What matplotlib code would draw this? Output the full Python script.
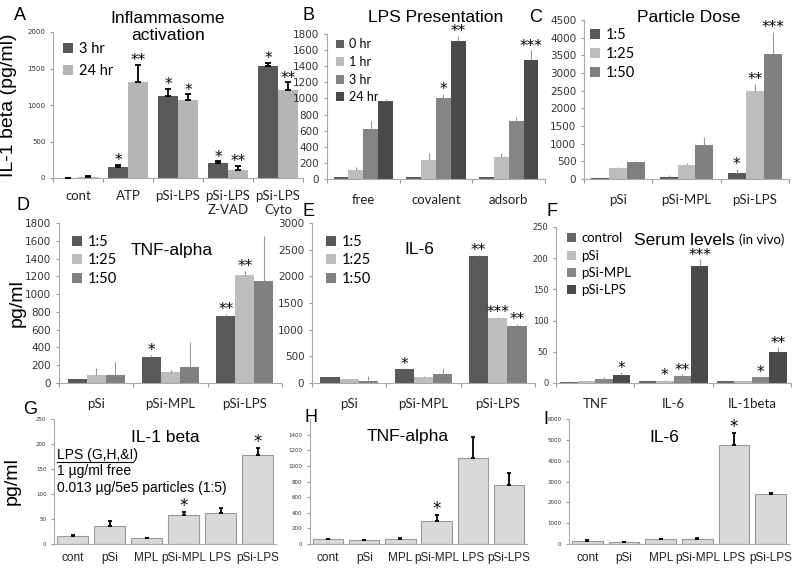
import matplotlib.pyplot as plt
from matplotlib.lines import Line2D
import numpy as np

W, H = 800, 569

# ---- data ----
a_cats = ["cont", "ATP", "pSi-LPS", "pSi-LPS\nZ-VAD", "pSi-LPS\nCyto"]
a_names = ["3 hr", "24 hr"]
a_vals = [[2, 150, 1130, 200, 1530], [10, 1320, 1070, 110, 1210]]
a_errs = [[3, 30, 90, 30, 50], [20, 230, 75, 60, 100]]
a_stars = [["", "*", "*", "*", "*"], ["", "**", "*", "**", "**"]]

b_cats = ["free", "covalent", "adsorb"]
b_names = ["0 hr", "1 hr", "3 hr", "24 hr"]
b_vals = [[20, 20, 20], [110, 235, 270], [625, 1010, 715], [965, 1715, 1480]]
b_errs = [[5, 5, 5], [40, 90, 50], [90, 50, 50], [30, 60, 120]]
b_stars = [["", "", ""], ["", "", ""], ["", "*", ""], ["", "**", "***"]]

dose_names = ["1:5", "1:25", "1:50"]
part_cats = ["pSi", "pSi-MPL", "pSi-LPS"]

c_vals = [[30, 50, 170], [320, 410, 2490], [480, 950, 3550]]
c_errs = [[10, 50, 120], [30, 30, 200], [30, 250, 620]]
c_stars = [["", "", "*"], ["", "", "**"], ["", "", "***"]]

d_vals = [[50, 290, 750], [90, 125, 1210], [90, 175, 1150]]
d_errs = [[5, 30, 30], [80, 20, 50], [150, 290, 500]]
d_stars = [["", "*", "**"], ["", "", "**"], ["", "", ""]]

e_vals = [[110, 270, 2380], [70, 110, 1210], [45, 170, 1070]]
e_errs = [[5, 10, 20], [5, 30, 30], [80, 120, 40]]
e_stars = [["", "*", "**"], ["", "", "***"], ["", "", "**"]]

f_cats = ["TNF", "IL-6", "IL-1beta"]
f_names = ["control", "pSi", "pSi-MPL", "pSi-LPS"]
f_vals = [[2, 3, 3], [3, 4, 3], [6, 12, 9], [13, 188, 49]]
f_errs = [[1, 1, 0.5], [1, 1, 0.5], [3, 2, 1], [4, 10, 8]]
f_stars = [["", "", ""], ["", "*", ""], ["", "**", "*"], ["*", "***", "**"]]

ghi_cats = ["cont", "pSi", "MPL", "pSi-MPL", "LPS", "pSi-LPS"]
g_vals = [16, 36, 12, 58, 62, 178]
g_errs = [3, 10, 0, 7, 10, 15]
g_stars = ["", "", "", "*", "", "*"]
h_vals = [60, 50, 70, 295, 1100, 755]
h_errs = [5, 0, 5, 80, 270, 150]
h_stars = ["", "", "", "*", "", ""]
i_vals = [150, 80, 230, 260, 4750, 2380]
i_errs = [50, 0, 30, 30, 580, 50]
i_stars = ["", "", "", "", "*", ""]


def box(x0, x1, ytop, ybot):
    return [x0 / W, 1 - ybot / H, (x1 - x0) / W, (ybot - ytop) / H]


def fx(x, y):
    return x / W, 1 - y / H


def style_axes(ax, cats, ymax, yticks, tick_fs, cat_fs, pad, cat_font="Lato"):
    n = len(cats)
    ax.set_xlim(0, n)
    ax.set_ylim(0, ymax)
    ax.set_yticks(yticks)
    ax.set_xticks(np.arange(n + 1))
    ax.set_xticklabels([])
    ax.set_xticks(np.arange(n) + 0.5, minor=True)
    ax.set_xticklabels(cats, minor=True, fontsize=cat_fs, family=cat_font, color="#222222")
    ax.tick_params(axis="x", which="major", length=3, color="#999999")
    ax.tick_params(axis="x", which="minor", length=0, pad=pad)
    ax.tick_params(axis="y", length=2, color="#999999", labelsize=tick_fs, labelcolor="#333333")
    for s in ["top", "right"]:
        ax.spines[s].set_visible(False)
    for s in ["left", "bottom"]:
        ax.spines[s].set_color("#aaaaaa")
        ax.spines[s].set_linewidth(0.8)


def star(ax, x, y, s, fs=11):
    ax.annotate(s, (x, y), xytext=(0, -2.5), textcoords="offset points", ha="center",
                va="bottom", fontsize=fs, family="DejaVu Sans")


def grouped(ax, vals, errs, stars, colors, names, group_w, ecolor, elw, cap):
    k = len(vals)
    bw = group_w / k
    n = len(vals[0])
    x0 = np.arange(n) + 0.5 - group_w / 2
    for j in range(k):
        xs = x0 + bw * (j + 0.5)
        ax.bar(xs, vals[j], bw, color=colors[j], label=names[j], zorder=2)
        ax.errorbar(xs, vals[j], yerr=[np.zeros(n), errs[j]], fmt="none",
                    ecolor=ecolor, elinewidth=elw, capsize=cap, capthick=elw, zorder=3)
        for i in range(n):
            if stars[j][i]:
                star(ax, xs[i], vals[j][i] + errs[j][i], stars[j][i])


def legend(ax, loc_xy, fs, spacing):
    ax.legend(loc="upper left", bbox_to_anchor=loc_xy, frameon=False,
              handlelength=0.7, handleheight=0.7, handletextpad=0.4, labelspacing=spacing,
              borderaxespad=0, borderpad=0, prop={"family": "Lato", "size": fs})


fig = plt.figure(figsize=(8, 5.69), dpi=100)

# A
ax = fig.add_axes(box(53, 303, 32, 178))
style_axes(ax, a_cats, 2000, [0, 500, 1000, 1500, 2000], 5, 9.5, 9)
grouped(ax, a_vals, a_errs, a_stars, ["#595959", "#b5b5b5"], a_names, 0.8, "black", 1.3, 2.5)
legend(ax, (0.04, 0.93), 10.5, 0.55)
ax.set_ylabel("IL-1 beta (pg/ml)", fontsize=14, family="Liberation Sans", labelpad=0)
ax.yaxis.set_label_coords(-0.145, 0.5)

# B
ax = fig.add_axes(box(327, 545, 34, 179))
style_axes(ax, b_cats, 1800, np.arange(0, 1801, 200), 7.5, 9.5, 11)
grouped(ax, b_vals, b_errs, b_stars, ["#5f5f5f", "#bdbdbd", "#858585", "#4a4a4a"], b_names,
        0.82, "#999999", 0.8, 0)
legend(ax, (0.04, 0.97), 9, 0.45)

# C
ax = fig.add_axes(box(584, 789, 20, 179))
style_axes(ax, part_cats, 4500, np.arange(0, 4501, 500), 7.5, 9.5, 11)
grouped(ax, c_vals, c_errs, c_stars, ["#595959", "#bdbdbd", "#808080"], dose_names,
        0.79, "#999999", 0.8, 0)
legend(ax, (0.03, 0.95), 10.5, 0.35)

# D
ax = fig.add_axes(box(59, 282, 223, 383))
style_axes(ax, part_cats, 1800, np.arange(0, 1801, 200), 7.5, 9.5, 11)
grouped(ax, d_vals, d_errs, d_stars, ["#595959", "#bdbdbd", "#808080"], dose_names,
        0.77, "#999999", 0.8, 0)
legend(ax, (0.058, 0.925), 10.5, 0.3)
ax.set_ylabel("pg/ml", fontsize=14, family="Liberation Sans")
ax.yaxis.set_label_coords(-0.15, 0.5)

# E
ax = fig.add_axes(box(312, 535, 223, 383))
style_axes(ax, part_cats, 3000, np.arange(0, 3001, 500), 7.5, 9.5, 11)
grouped(ax, e_vals, e_errs, e_stars, ["#595959", "#bdbdbd", "#808080"], dose_names,
        0.78, "#999999", 0.8, 0)
legend(ax, (0.063, 0.925), 10.5, 0.3)

# F
ax = fig.add_axes(box(556, 791, 227, 383))
style_axes(ax, f_cats, 250, np.arange(0, 251, 50), 6, 9.5, 11)
grouped(ax, f_vals, f_errs, f_stars, ["#666666", "#bdbdbd", "#888888", "#4a4a4a"], f_names,
        0.89, "#999999", 0.8, 0)
legend(ax, (0.047, 0.965), 9.5, 0.4)


# G, H, I
def single(rect, vals, errs, stars, ymax, yticks):
    ax = fig.add_axes(rect)
    style_axes(ax, ghi_cats, ymax, yticks, 4, 8.5, 6, "Liberation Sans")
    xs = np.arange(len(vals)) + 0.5
    ax.bar(xs, vals, 0.84, color="#d9d9d9", edgecolor="#9a9a9a", linewidth=0.8, zorder=2)
    ax.errorbar(xs, vals, yerr=[np.zeros(len(vals)), errs], fmt="none", ecolor="black",
                elinewidth=1.3, capsize=1.5, capthick=1.3, zorder=3)
    for i in range(len(vals)):
        if stars[i]:
            star(ax, xs[i], vals[i] + errs[i], stars[i], 12)
    ax.tick_params(axis="x", which="major", length=0)
    return ax


ax = single(box(54, 276, 419, 544), g_vals, g_errs, g_stars, 250, np.arange(0, 251, 50))
ax.set_ylabel("pg/ml", fontsize=14, family="Liberation Sans")
ax.yaxis.set_label_coords(-0.15, 0.5)
single(box(310, 527, 419, 544), h_vals, h_errs, h_stars, 1600, np.arange(0, 1401, 200))
single(box(569, 789, 419, 544), i_vals, i_errs, i_stars, 6000, np.arange(0, 6001, 1000))

# titles and labels
tkw = dict(family="Liberation Sans", ha="center", va="center", fontsize=12.5)
fig.text(*fx(168, 27), "Inflammasome\nactivation", linespacing=1.1, **tkw)
fig.text(*fx(436, 17), "LPS Presentation", **tkw)
fig.text(*fx(689, 17), "Particle Dose", **tkw)
fig.text(*fx(172, 251), "TNF-alpha", **tkw)
fig.text(*fx(419, 249), "IL-6", **tkw)
fig.text(*fx(684, 240), "Serum levels", **tkw)
fig.text(*fx(762, 240), "(in vivo)", fontsize=9.5, family="Lato", ha="center", va="center")
fig.text(*fx(165, 438), "IL-1 beta", **tkw)
fig.text(*fx(408, 437), "TNF-alpha", **tkw)
fig.text(*fx(664, 437), "IL-6", **tkw)

lkw = dict(family="Liberation Sans", fontsize=13, ha="center", va="center")
for letter, x, y in [("A", 20, 16), ("B", 309, 16), ("C", 536, 17), ("D", 23, 205),
                     ("E", 309, 212), ("F", 552, 212), ("G", 30, 410), ("H", 311, 418),
                     ("I", 546, 420)]:
    fig.text(*fx(x, y), letter, **lkw)

gkw = dict(family="Liberation Sans", fontsize=10, ha="left", va="center")
fig.text(*fx(57, 455), "LPS (G,H,&I)", **gkw)
fig.add_artist(Line2D([57 / W, 133 / W], [1 - 462 / H, 1 - 462 / H], color="black", lw=0.8))
fig.text(*fx(57, 471), "1 \u00b5g/ml free", **gkw)
fig.text(*fx(57, 488), "0.013 \u00b5g/5e5 particles (1:5)", **gkw)

fig.savefig("out.png", dpi=100)
